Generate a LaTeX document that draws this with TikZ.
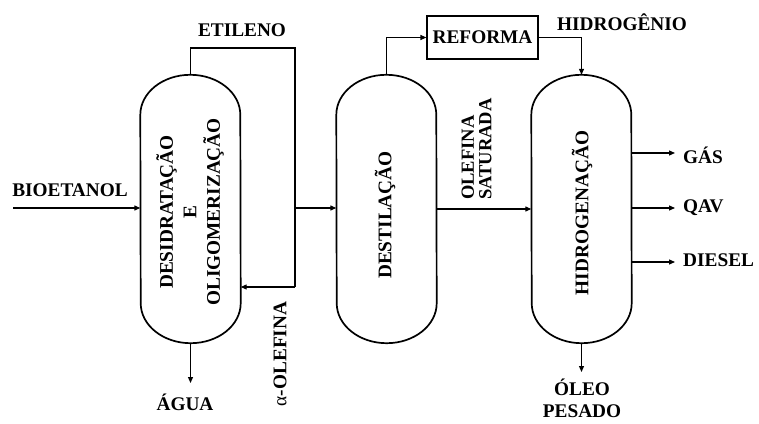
\documentclass[tikz,border=0pt]{standalone}
\usepackage{fontspec}
\setmainfont{Liberation Serif}
\usetikzlibrary{arrows.meta}
\begin{document}
\begin{tikzpicture}[x=1pt,y=1pt,
  lbl/.style={font=\fontsize{19.3}{22}\selectfont\bfseries, inner sep=0pt},
  vessel/.style={rectangle, minimum width=100pt, minimum height=268pt, inner sep=0pt},
  shell/.style={line width=1.7pt},
  flow/.style={line width=1.2pt, -{Triangle[length=6pt,width=5pt]}},
  pipe/.style={line width=1.2pt},
  boxed/.style={draw, line width=1.2pt, minimum width=111pt, minimum height=43pt, inner sep=0pt}]
\useasboundingbox (0,0) rectangle (759,423);

% process vessels
\node[vessel] (v1) at (190.5,214) {};
\node[vessel] (v2) at (386.5,214) {};
\node[vessel] (v3) at (581.5,214) {};
\foreach \v in {v1,v2,v3}{
  \draw[shell] ([yshift=-40pt]\v.north west)
    arc[start angle=180,end angle=0,x radius=50,y radius=40]
    -- ([yshift=40pt]\v.south east)
    arc[start angle=0,end angle=-180,x radius=50,y radius=40]
    -- cycle;
}

% vessel captions
\node[lbl, rotate=90, align=center, font=\fontsize{19.3}{23.5}\selectfont\bfseries]
  (t1) at (190,211) {DESIDRATAÇÃO\\E\\OLIGOMERIZAÇÃO};
\node[lbl, rotate=90] (t2) at (385,208) {DESTILAÇÃO};
\node[lbl, rotate=90] (t3) at (582,210) {HIDROGENAÇÃO};

% reformer
\node[boxed, lbl] (ref) at (482.5,385.5) {REFORMA};

% feed
\coordinate (feed) at (13,215);
\draw[flow] (feed) -- (feed -| v1.west);
\node[lbl] (bio) at (70,233) {BIOETANOL};

% ethylene loop and alpha-olefin recycle
\coordinate (etA) at (v1.north |- 0,375);
\coordinate (etB) at (295,375);
\coordinate (etC) at (295,136);
\coordinate (etD) at (295,215);
\draw[pipe] (v1.north) -- (etA) -- (etB) -- (etC);
\draw[flow] (etC) -- (etC -| v1.east);
\draw[flow] (etD) -- (etD -| v2.west);
\node[lbl] (eti) at (242,393) {ETILENO};
\node[lbl, rotate=90] (alf) at (280,69) {{\mdseries α}-OLEFINA};

% water
\coordinate (agA) at (v1.south |- 0,40);
\draw[flow] (v1.south) -- (agA);
\node[lbl] (agua) at (185,21) {ÁGUA};

% distillation top to reformer, hydrogen to hydrogenation
\coordinate (rfA) at (v2.north |- ref.west);
\draw[pipe] (v2.north) -- (rfA);
\draw[flow] (rfA) -- (ref.west);
\coordinate (rfB) at (v3.north |- ref.east);
\draw[pipe] (ref.east) -- (rfB);
\draw[flow] (rfB) -- (v3.north);
\node[lbl] (h2) at (622,401) {HIDROGÊNIO};

% saturated olefin to hydrogenation
\draw[flow] (v2.east) -- (v3.west);
\node[lbl, rotate=90, anchor=west, align=left, font=\fontsize{18.5}{17.5}\selectfont\bfseries]
  (sat) at (476.5,223) {OLEFINA\\SATURADA};

% products
\coordinate (gas) at (675,270);
\coordinate (qav) at (675,215);
\coordinate (die) at (675,161);
\draw[flow] (gas -| v3.east) -- (gas);
\draw[flow] (qav -| v3.east) -- (qav);
\draw[flow] (die -| v3.east) -- (die);
\node[lbl, anchor=west] (lgas) at (683,268) {GÁS};
\node[lbl, anchor=west] (lqav) at (683,215) {QAV};
\node[lbl, anchor=west] (ldie) at (683,163) {DIESEL};

% heavy oil
\coordinate (olA) at (v3.south |- 0,51);
\draw[flow] (v3.south) -- (olA);
\node[lbl, align=center, font=\fontsize{19.3}{22}\selectfont\bfseries] (oleo) at (582,25) {ÓLEO\\PESADO};
\end{tikzpicture}
\end{document}
